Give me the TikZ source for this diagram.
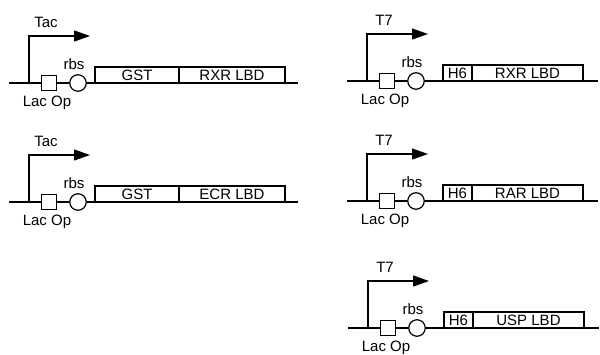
\documentclass[tikz,border=0pt]{standalone}
\usepackage{fontspec}
\setmainfont{Liberation Sans}
\usetikzlibrary{arrows.meta}
\tikzset{
  lbl/.style={inner sep=0pt, font=\fontsize{15}{17}\selectfont},
  opbox/.style={draw, line width=1.2pt, minimum size=15pt, inner sep=0pt, fill=white},
  rbsc/.style={draw, circle, line width=1.2pt, minimum size=16.5pt, inner sep=0pt},
  seg/.style={draw, line width=1.2pt, minimum height=16pt, inner sep=0pt, outer sep=0pt, font=\fontsize{15}{17}\selectfont},
  dna/.style={line width=1.2pt},
  prom/.style={line width=1.2pt, -{Triangle[length=16pt,width=11pt]}}
}
\newcommand\geneconstruct[9]{%
  \begin{scope}[shift={#2}]
    \coordinate (#1s) at (-20,0);
    \coordinate (#1p) at (0,0);
    \coordinate (#1t) at (61,-47);
    \node[opbox] (#1op) at (20,0) {};
    \node[rbsc] (#1rbs) at (49,0) {};
    \node[lbl] (#1rl) at (45,-19) {rbs};
    \node[lbl] (#1lo) at (18,20) {Lac Op};
    \node[lbl] (#1pl) at (17,-61) {#3};
    \node[seg, minimum width={(#5-#4)*1pt}] (#1a) at ({(#4+#5)/2},-8) {#8};
    \node[seg, minimum width={(#6-#5)*1pt}] (#1b) at ({(#5+#6)/2},-8) {#9};
    \coordinate (#1e) at (#7,0);
    \draw[dna] (#1s) -- (#1op.west) (#1op.east) -- (#1rbs.west)
      (#1rbs.east) -- (#1a.south west) (#1b.south east) -- (#1e);
    \draw[prom] (#1p) |- (#1t);
  \end{scope}}
\begin{document}
\begin{tikzpicture}[x=1pt,y=-1pt]
\useasboundingbox (0,0) rectangle (600,354);
\geneconstruct{l1}{(29,83)}{Tac}{66}{150}{256}{269}{GST}{RXR LBD}
\geneconstruct{l2}{(29,202)}{Tac}{66}{150}{256}{269}{GST}{ECR LBD}
\geneconstruct{r1}{(367,81)}{T7}{76}{105}{216}{231}{H6}{RXR LBD}
\geneconstruct{r2}{(367,201)}{T7}{76}{105}{216}{231}{H6}{RAR LBD}
\geneconstruct{r3}{(368,328)}{T7}{76}{105}{216}{231}{H6}{USP LBD}
\end{tikzpicture}
\end{document}
